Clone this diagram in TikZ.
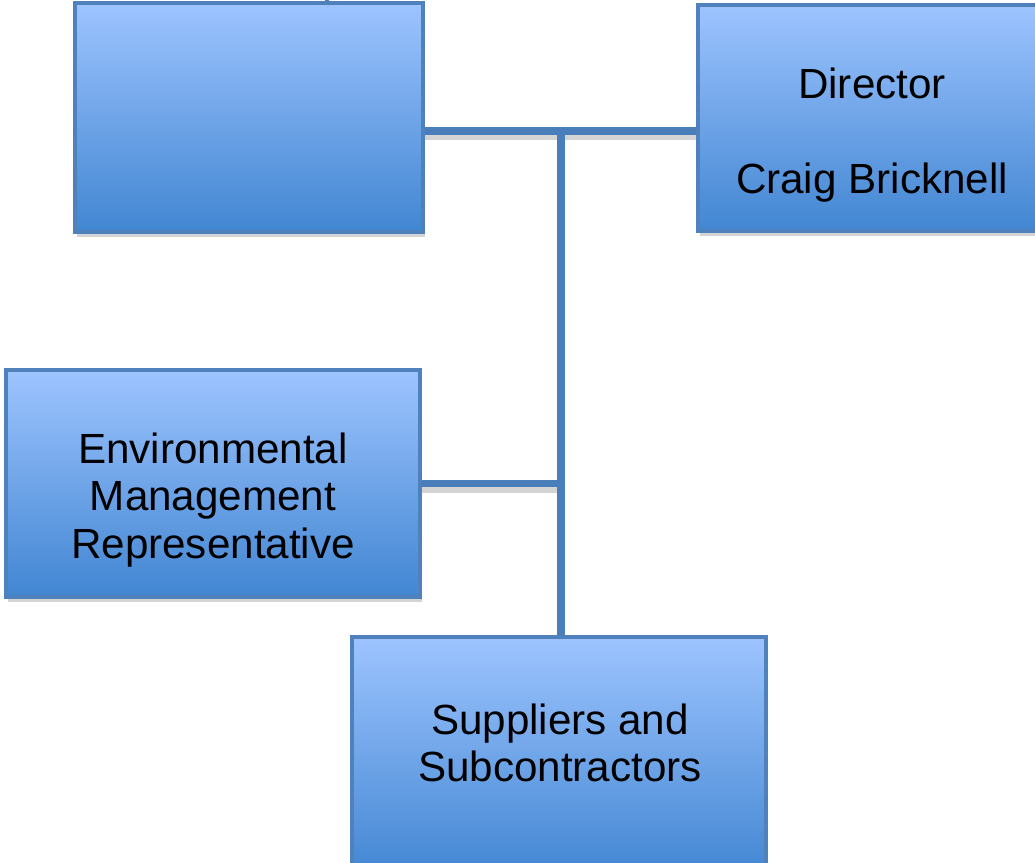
\documentclass[tikz,border=0pt]{standalone}
\usepackage{fontspec}
\setmainfont{Liberation Sans}
\usetikzlibrary{calc,shadows}

\definecolor{boxline}{RGB}{79,129,189}
\definecolor{boxtop}{RGB}{157,196,255}
\definecolor{boxbot}{RGB}{66,134,210}
\definecolor{linkblue}{RGB}{74,126,187}

\tikzset{
  orgbox/.style={draw=boxline, line width=0.1cm, top color=boxtop, bottom color=boxbot,
    drop shadow={shadow xshift=0.06cm, shadow yshift=-0.12cm, fill=black!17, opacity=1}},
  orgtext/.style={font=\fontsize{30}{34}\selectfont, align=center, inner sep=0pt},
  link/.style={draw=linkblue, line width=0.18cm},
  linkshade/.style={draw=black!17, line width=0.16cm},
}

\begin{document}
\begin{tikzpicture}[x=0.025cm, y=-0.025cm]
  \useasboundingbox (0,0) rectangle (1035,863);
  \clip (0,0) rectangle (1035,863);

  % boxes
  \node[orgbox, minimum width=8.7cm, minimum height=5.725cm] (blank) at (249,117.5) {};
  \node[orgbox, minimum width=8.7cm, minimum height=5.65cm] (director) at (872,118) {};
  \node[orgbox, minimum width=10.35cm, minimum height=5.675cm] (emr) at (213,483.5) {};
  \node[orgbox, minimum width=10.35cm, minimum height=6cm] (suppliers) at (559,757) {};

  % texts
  \node[orgtext] (directortext) at (872,135) {Director\\[34pt]Craig Bricknell};
  \node[orgtext] (emrtext) at (213,500) {Environmental\\Management\\Representative};
  \node[orgtext] (supplierstext) at (560,743) {Suppliers and\\Subcontractors};

  \coordinate (hub) at (561,131);
  \coordinate (up) at (327,-20);

  % shadows under the connectors
  \draw[linkshade] ($(blank.east |- hub)+(0,6)$) -- ($(director.west |- hub)+(0,6)$);
  \draw[linkshade] ($(emr.east)+(0,6)$) -- ($(emr.east -| hub)+(0,6)$);

  % connectors
  \draw[link] (blank.east |- hub) -- (director.west |- hub);
  \draw[link] (hub) -- (hub |- suppliers.north);
  \draw[link] (emr.east) -- (emr.east -| hub);
  \draw[draw=linkblue, line width=0.1cm] (blank.north -| up) -- (up);
\end{tikzpicture}
\end{document}
